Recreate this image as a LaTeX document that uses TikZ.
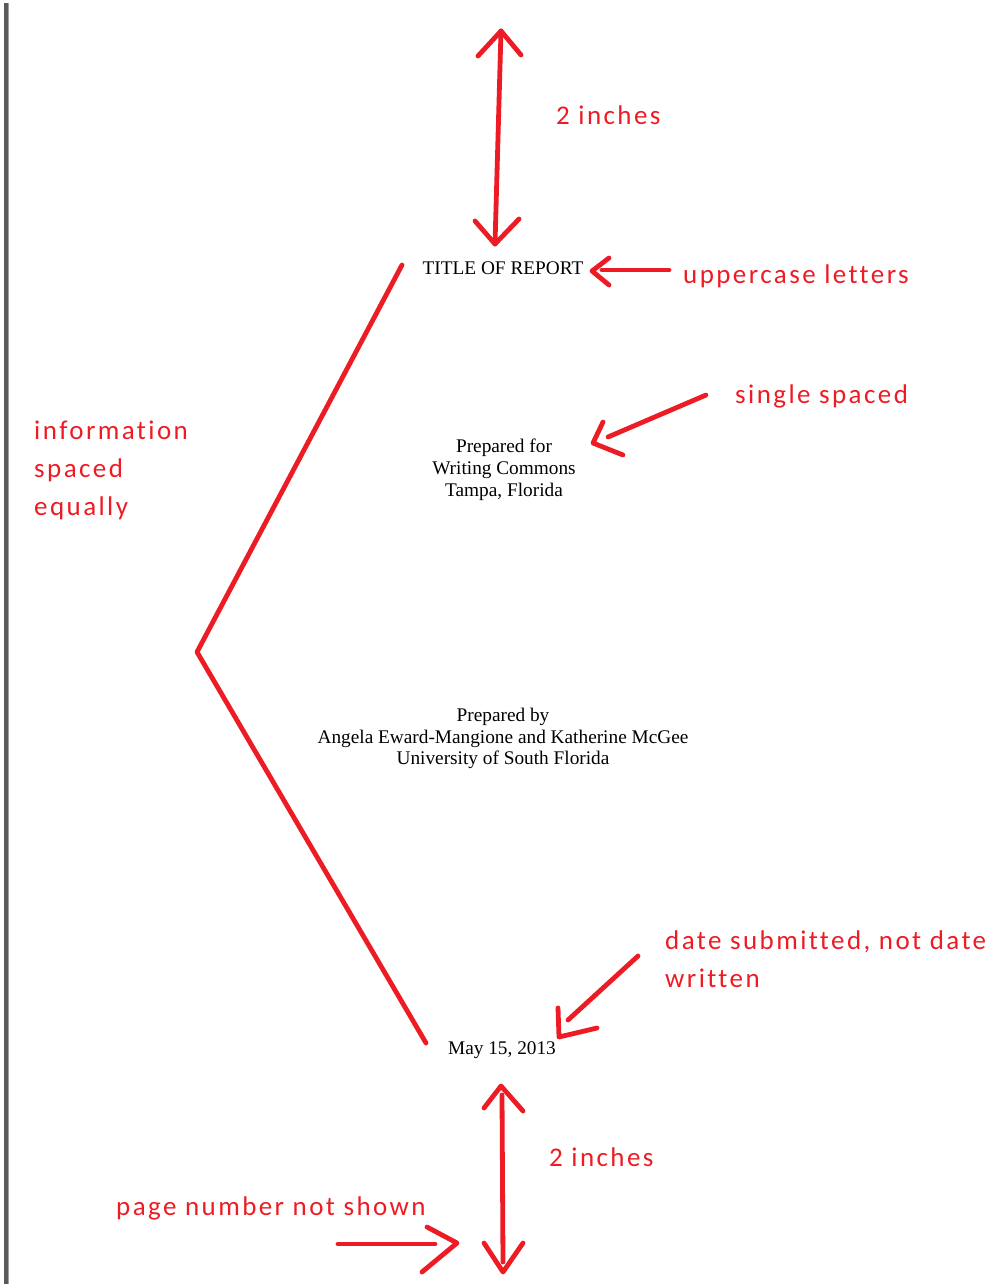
\documentclass[tikz,border=0pt]{standalone}
\usepackage{fontspec}
\setmainfont{Liberation Serif}
\newfontfamily\annfont[LetterSpace=9,Ligatures={NoCommon}]{Carlito}
\definecolor{annred}{RGB}{237,28,36}
\definecolor{barA}{RGB}{90,90,90}
\definecolor{barB}{RGB}{160,160,160}
\begin{document}
\begin{tikzpicture}[x=1pt,y=-1pt,
  redline/.style={draw=annred, line width=4.8pt, line cap=round, line join=round},
  ann/.style={font=\annfont\fontsize{27}{38}\selectfont, text=annred, inner sep=0pt, anchor=base west},
  doc/.style={font=\fontsize{19.3}{22}\selectfont, inner sep=0pt, anchor=base}]
\useasboundingbox (0,0) rectangle (987,1284);
% left page edge
\fill[barA] (4,3) rectangle (7.5,1284);
\fill[barB] (7.5,3) rectangle (9,1284);

% document text
\node[doc] (title) at (503,274) {TITLE OF REPORT};
\node[doc] (pf1) at (504,452) {Prepared for};
\node[doc] (pf2) at (504,474) {Writing Commons};
\node[doc] (pf3) at (504,496) {Tampa, Florida};
\node[doc] (pb1) at (503,721) {Prepared by};
\node[doc] (pb2) at (503,743) {Angela Eward-Mangione and Katherine McGee};
\node[doc] (pb3) at (503,764) {University of South Florida};
\node[doc] (date) at (502,1054) {May 15, 2013};

% annotations
\node[ann] (inchTop) at (556,125) {2 inches};
\node[ann] (upper) at (683,283) {uppercase letters};
\node[ann] (single) at (735,403) {single spaced};
\node[ann] (info1) at (34,439) {information};
\node[ann] (info2) at (34,477) {spaced};
\node[ann] (info3) at (34,515) {equally};
\node[ann] (dsub1) at (665,949) {date submitted, not date};
\node[ann] (dsub2) at (665,987) {written};
\node[ann] (inchBot) at (549,1166) {2 inches};
\node[ann] (pagenum) at (116,1215) {page number not shown};

% top 2-inch arrow
\coordinate (tA) at (501,31);
\coordinate (tB) at (495,244);
\draw[redline] (tA) -- (tB);
\draw[redline] (478,56) -- (tA) -- (521,55);
\draw[redline] (475,221) -- (tB) -- (519,219);

% uppercase arrow
\coordinate (uS) at (669,270);
\coordinate (uT) at (592,271);
\draw[redline] (uS) -- (602,270);
\draw[redline] (609,258) -- (uT) -- (609,285);

% single spaced arrow
\coordinate (sS) at (706,395);
\coordinate (sT) at (593,443);
\draw[redline] (sS) -- (608,437);
\draw[redline] (603,422) -- (sT) -- (623,455);

% bracket
\coordinate (brTop) at (402,265);
\coordinate (brMid) at (197,652);
\coordinate (brBot) at (426,1043);
\draw[redline] (brTop) -- (brMid) -- (brBot);

% date arrow
\coordinate (dS) at (638,956);
\coordinate (dT) at (559,1037);
\draw[redline] (dS) -- (568,1020);
\draw[redline] (558,1008) -- (dT) -- (597,1028);

% bottom 2-inch arrow
\coordinate (bA) at (501,1086);
\coordinate (bB) at (503,1272);
\draw[redline] (502,1095) -- (503,1262);
\draw[redline] (484,1108) -- (bA) -- (523,1111);
\draw[redline] (484,1243) -- (bB) -- (523,1243);

% page number arrow
\coordinate (pS) at (338,1244);
\coordinate (pT) at (457,1243);
\draw[redline] (pS) -- (435,1244);
\draw[redline] (427,1227) -- (pT) -- (422,1272);
\end{tikzpicture}
\end{document}
